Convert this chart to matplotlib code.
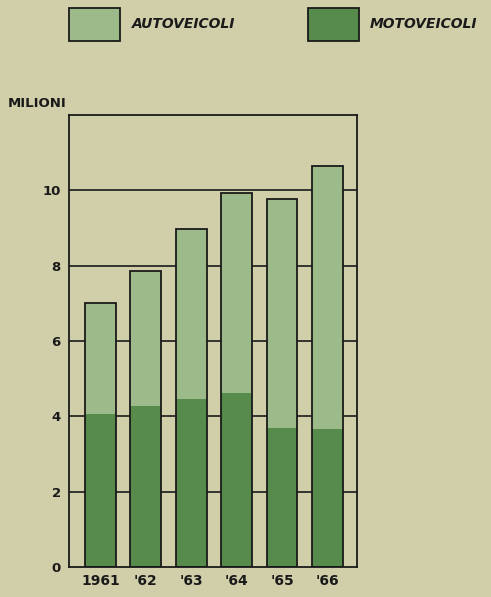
import matplotlib
matplotlib.use("Agg")
import matplotlib.pyplot as plt
from matplotlib.patches import Rectangle

years = ["1961", "'62", "'63", "'64", "'65", "'66"]
motoveicoli = [4.06, 4.27, 4.47, 4.63, 3.70, 3.66]
totale = [7.00, 7.85, 8.97, 9.94, 9.78, 10.64]
autoveicoli = [t - m for t, m in zip(totale, motoveicoli)]
yticks = [0, 2, 4, 6, 8, 10]

bg = "#d1cfaa"
light = "#9dba8a"
dark = "#568b4b"
ink = "#1a1a1a"

fig = plt.figure(figsize=(4.91, 5.97), dpi=100, facecolor=bg)
ax = fig.add_axes([69/491, 1-567/597, 288/491, 452/597], facecolor=bg)

x = range(len(years))
w = 0.68
ax.bar(x, motoveicoli, width=w, color=dark, edgecolor="none", zorder=2)
ax.bar(x, autoveicoli, width=w, bottom=motoveicoli, color=light, edgecolor="none", zorder=2)
ax.bar(x, totale, width=w, fill=False, edgecolor=ink, linewidth=1.3, zorder=3)

for yv in yticks[1:]:
    ax.axhline(yv, color=ink, linewidth=1.2, zorder=1)

ax.set_xlim(-0.69, 5.65)
ax.set_ylim(0, 12)
ax.set_yticks(yticks)
ax.set_yticklabels([str(v) for v in yticks], fontsize=9.5, fontweight="bold",
                   family="DejaVu Sans", color=ink)
ax.set_xticks(list(x))
ax.set_xticklabels(years, fontsize=10, fontweight="bold",
                   family="DejaVu Sans", color=ink)
ax.tick_params(axis="both", length=0)
ax.tick_params(axis="y", pad=6)
ax.tick_params(axis="x", pad=5)
for s in ax.spines.values():
    s.set_color(ink)
    s.set_linewidth(1.3)

fig.text(8/491, 1-104/597, "MILIONI", fontsize=9.5, fontweight="bold",
         family="DejaVu Sans", va="center", ha="left", color=ink)

# legend
for (x0, x1, col, lab, tx) in [(69, 120, light, "AUTOVEICOLI", 132),
                               (308, 359, dark, "MOTOVEICOLI", 370)]:
    fig.patches.append(Rectangle((x0/491, 1-41/597), (x1-x0)/491, 33/597,
                                 transform=fig.transFigure, facecolor=col,
                                 edgecolor=ink, linewidth=1.3))
    fig.text(tx/491, 1-24/597, lab, fontsize=10, style="italic", fontweight="bold",
             family="DejaVu Sans", va="center", ha="left", color=ink)

fig.savefig("out.png", dpi=100, facecolor=bg)
